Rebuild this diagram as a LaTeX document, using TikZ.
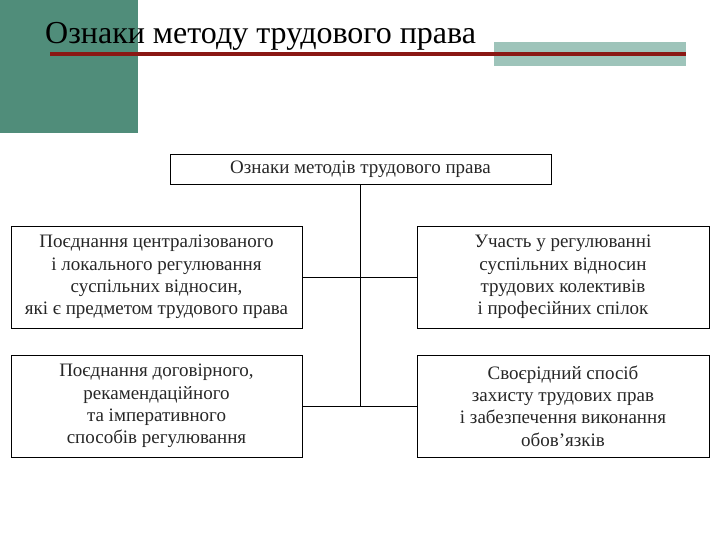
\documentclass[tikz,border=0pt]{standalone}
\usepackage{fontspec}
\setmainfont{Liberation Serif}
\definecolor{blockgreen}{RGB}{80,141,122}
\definecolor{lightgreen}{RGB}{158,196,186}
\definecolor{darkred}{RGB}{138,24,20}
\begin{document}
\begin{tikzpicture}[x=1pt,y=-1pt,
  box/.style={draw=black,line width=0.9pt,align=center,inner sep=0pt,
    font=\fontsize{19}{22.3}\selectfont,text=black!85},
  conn/.style={draw=black,line width=0.9pt}]
\useasboundingbox (0,0) rectangle (720,540);
\fill[blockgreen] (0,0) rectangle (138,133);
\fill[lightgreen] (494,42) rectangle (686,66);
\fill[darkred] (50,52) rectangle (686,56);
\node[anchor=base west,inner sep=0pt,font=\fontsize{32}{36}\selectfont] (title) at (45,44) {Ознаки методу трудового права};
\node[box,minimum width=381pt,minimum height=30pt] (top) at (360.5,169) {Ознаки методів трудового права};
\node[box,minimum width=291pt,minimum height=102pt] (l1) at (156.5,277) {Поєднання централізованого\\і локального регулювання\\суспільних відносин,\\які є предметом трудового права};
\node[box,minimum width=291pt,minimum height=102pt] (l2) at (156.5,406) {Поєднання договірного,\\рекамендаційного\\та імперативного\\способів регулювання};
\node[box,minimum width=292pt,minimum height=102pt] (r1) at (563,277) {Участь у регулюванні\\суспільних відносин\\трудових колективів\\і професійних спілок};
\node[box,minimum width=292pt,minimum height=102pt] (r2) at (563,406) {Своєрідний спосіб\\захисту трудових прав\\і забезпечення виконання\\обов’язків};
\draw[conn] (top.south) -- (top.south |- l2.east);
\draw[conn] (l1.east) -- (r1.west);
\draw[conn] (l2.east) -- (r2.west);
\end{tikzpicture}
\end{document}
